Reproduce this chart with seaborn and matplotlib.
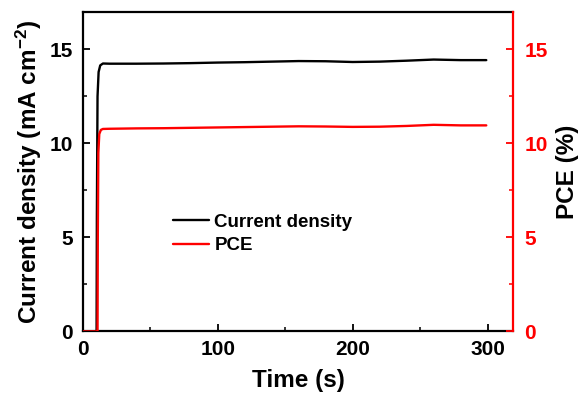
import matplotlib
matplotlib.use("Agg")
import matplotlib.pyplot as plt
from matplotlib.ticker import MultipleLocator
import seaborn as sns
import pandas as pd

# ---- data ----
time_j = [0, 10.3, 10.5, 11.0, 11.8, 13.0, 15, 20, 40, 60, 80, 100, 120, 140,
          160, 180, 200, 220, 240, 260, 280, 299]
current = [0, 0, 6.0, 12.5, 13.8, 14.15, 14.25, 14.24, 14.24, 14.25, 14.27, 14.3,
           14.32, 14.35, 14.38, 14.37, 14.33, 14.35, 14.4, 14.46, 14.43, 14.43]

time_p = [0, 11.0, 11.2, 11.6, 12.3, 13.5, 15, 20, 40, 60, 80, 100, 120, 140,
          160, 180, 200, 220, 240, 260, 280, 299]
pce = [0, 0, 5.0, 9.5, 10.5, 10.72, 10.77, 10.78, 10.8, 10.81, 10.83, 10.85,
       10.87, 10.89, 10.91, 10.9, 10.88, 10.89, 10.93, 10.99, 10.96, 10.96]

x_ticks = [0, 100, 200, 300]
y_ticks = [0, 5, 10, 15]
label_current = "Current density"
label_pce = "PCE"

df_j = pd.DataFrame({"Time": time_j, "J": current})
df_p = pd.DataFrame({"Time": time_p, "PCE": pce})

sns.set_theme(style="ticks")
plt.rcParams["font.family"] = ["Liberation Sans", "DejaVu Sans"]
plt.rcParams["font.weight"] = "bold"
plt.rcParams["mathtext.fontset"] = "custom"
plt.rcParams["mathtext.rm"] = "Liberation Sans:bold"
plt.rcParams["mathtext.bf"] = "Liberation Sans:bold"
plt.rcParams["mathtext.default"] = "bf"
for k in ("text.color", "axes.labelcolor", "xtick.color", "ytick.color", "axes.edgecolor"):
    plt.rcParams[k] = "black"

fig = plt.figure(figsize=(5.79, 3.93), dpi=100)
ax = fig.add_axes([0.1428, 0.1565, 0.7437, 0.8135])
ax2 = ax.twinx()

sns.lineplot(data=df_j, x="Time", y="J", ax=ax, color="black", lw=1.7,
             label=label_current, legend=False)
sns.lineplot(data=df_p, x="Time", y="PCE", ax=ax2, color="red", lw=1.7,
             label=label_pce, legend=False)

ax.set_xlim(0, 319)
ax.set_ylim(0, 17)
ax2.set_ylim(0, 17)
ax.set_xticks(x_ticks)
ax.set_yticks(y_ticks)
ax2.set_yticks(y_ticks)
ax.xaxis.set_minor_locator(MultipleLocator(50))
ax.yaxis.set_minor_locator(MultipleLocator(2.5))
ax2.yaxis.set_minor_locator(MultipleLocator(2.5))

for a in (ax, ax2):
    for s in a.spines.values():
        s.set_linewidth(1.6)
        s.set_color("black")
ax.spines["right"].set_visible(False)
ax2.spines["left"].set_visible(False)
ax2.spines["top"].set_visible(False)
ax2.spines["bottom"].set_visible(False)
ax2.spines["right"].set_color("red")

ax.tick_params(axis="both", which="major", direction="in", length=5, width=1.3,
               labelsize=15, pad=7, color="black", labelcolor="black",
               top=False, right=False)
ax.tick_params(axis="both", which="minor", direction="in", length=3, width=1.1,
               color="black", top=False, right=False)
ax.tick_params(axis="x", which="major", pad=6)
ax2.tick_params(axis="y", which="major", direction="in", length=5, width=1.3,
                labelsize=15, pad=8, color="red", labelcolor="red")
ax2.tick_params(axis="y", which="minor", direction="in", length=3, width=1.1,
                color="red")

for lab in ax.get_xticklabels() + ax.get_yticklabels() + ax2.get_yticklabels():
    lab.set_fontweight("bold")

ax.set_xlabel("Time (s)", fontsize=17.5, fontweight="bold", labelpad=7, color="black")
ax.set_ylabel("Current density (mA cm$^{-2}$)", fontsize=17.5, fontweight="bold",
              labelpad=4, color="black")
ax2.set_ylabel("PCE (%)", fontsize=17.5, fontweight="bold", color="black", labelpad=6)

h1, l1 = ax.get_legend_handles_labels()
h2, l2 = ax2.get_legend_handles_labels()
leg = ax2.legend(h1 + h2, l1 + l2, loc="center left", bbox_to_anchor=(0.21, 0.305),
                 frameon=False, handlelength=1.9, handletextpad=0.3,
                 labelspacing=0.35, borderpad=0, borderaxespad=0,
                 prop={"weight": "bold", "size": 13.5})
for t in leg.get_texts():
    t.set_color("black")

fig.savefig("out.png", dpi=100)
